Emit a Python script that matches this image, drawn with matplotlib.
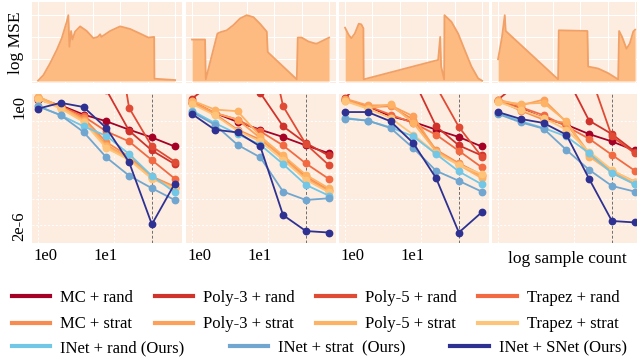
import matplotlib.pyplot as plt
from matplotlib.lines import Line2D
from matplotlib.transforms import ScaledTranslation

plt.rcParams['font.family'] = ['Liberation Serif', 'DejaVu Serif']

# sample counts on the x axis of the lower row
counts = [1, 2, 4, 8, 16, 32, 64]
dashed_at = 32

# log10 MSE, one list per integrand (4 integrands)
mc_rand = [[0.33, 0.06, -0.38, -0.70, -1.10, -1.47, -1.90],
           [0.18, -0.30, -0.73, -1.10, -1.45, -1.85, -2.22],
           [0.33, 0.02, -0.46, -0.73, -1.10, -1.45, -1.90],
           [0.26, -0.10, -0.54, -0.86, -1.31, -1.66, -2.09]]
poly3_rand = [[3.0, 3.5, 2.5, 0.80, -1.15, -2.09, -2.74],
              [0.38, 1.2, 2.0, 0.65, -0.94, -1.74, -2.33],
              [0.40, 1.5, 3.0, 1.32, -0.94, -1.85, -2.33],
              [0.33, 1.2, 3.0, 1.45, -0.67, -1.31, -2.14]]
poly5_rand = [[3.5, 5.0, 7.0, 6.5, -0.06, -1.90, -2.62],
              [2.5, 4.0, 6.0, 4.9, 0.02, -1.79, -2.78],
              [2.0, 4.0, 6.0, 6.0, 0.97, -0.97, -2.38],
              [2.0, 4.0, 5.0, 6.0, 1.69, -1.42, -2.22]]
trapez_rand = [[0.45, 0.02, -0.46, -1.18, -1.66, -2.55, -3.43],
               [0.26, -0.30, -0.62, -1.18, -1.85, -2.71, -3.44],
               [0.33, 0.02, -0.38, -0.78, -1.34, -2.11, -2.89],
               [0.26, -0.03, -0.41, -0.94, -1.53, -2.30, -3.05]]
mc_strat = [[0.41, -0.06, -0.54, -1.69, -2.38, -3.33, -3.81],
            [0.18, -0.35, -1.10, -1.58, -2.38, -3.33, -3.97],
            [0.33, -0.03, 0.02, -0.62, -2.06, -2.70, -3.25],
            [0.29, -0.19, -0.62, -0.78, -2.30, -3.09, -3.65]]
poly3_strat = [[0.45, -0.03, -0.62, -1.82, -2.46, -3.38, -3.86],
               [0.22, -0.30, -0.62, -1.50, -2.46, -3.41, -4.02],
               [0.38, 0.06, 0.06, -0.46, -2.11, -2.74, -3.33],
               [0.33, 0.06, 0.33, -0.73, -2.22, -3.06, -3.57]]
poly5_strat = [[0.48, 0.0, -0.67, -1.90, -2.49, -3.41, -3.89],
               [0.29, -0.14, -0.22, -1.42, -2.33, -3.25, -3.89],
               [0.29, -0.06, 0.10, -0.78, -2.14, -2.78, -3.41],
               [0.26, 0.13, 0.18, -0.70, -2.38, -3.13, -3.70]]
trapez_strat = [[0.38, -0.10, -0.73, -1.98, -2.54, -3.44, -3.92],
                [0.13, -0.41, -1.15, -1.66, -2.54, -3.49, -4.08],
                [0.26, -0.10, -0.54, -1.34, -2.22, -2.78, -3.22],
                [0.22, -0.14, -0.54, -1.10, -2.14, -3.01, -3.60]]
inet_rand = [[0.02, -0.41, -0.94, -1.39, -2.26, -3.30, -4.08],
             [-0.19, -0.78, -1.31, -1.82, -2.74, -3.73, -4.24],
             [-0.54, -0.67, -0.99, -1.42, -2.26, -3.09, -3.70],
             [-0.30, -0.70, -1.02, -1.42, -2.22, -3.17, -3.70]]
inet_strat = [[0.02, -0.41, -1.21, -2.42, -3.29, -3.89, -4.45],
              [-0.26, -0.86, -1.82, -2.42, -4.05, -4.45, -4.37],
              [-0.57, -0.67, -1.02, -1.98, -3.06, -3.54, -4.05],
              [-0.35, -0.75, -1.05, -2.06, -3.01, -3.78, -4.05]]
inet_snet = [[-0.10, 0.18, -0.02, -1.02, -2.65, -5.61, -3.68],
             [-0.35, -1.10, -1.23, -1.90, -5.17, -5.93, -6.00],
             [-0.26, -0.26, -0.70, -1.74, -3.41, -6.00, -5.04],
             [-0.26, -0.59, -0.78, -1.34, -3.44, -5.45, -5.52]]

names = ['MC + rand', 'Poly-3 + rand', 'Poly-5 + rand', 'Trapez + rand',
         'MC + strat', 'Poly-3 + strat', 'Poly-5 + strat', 'Trapez + strat',
         'INet + rand (Ours)', 'INet + strat  (Ours)', 'INet + SNet (Ours)']
colors = ['#a50026', '#d0332c', '#e04b35', '#f26a41',
          '#f88c50', '#fca05a', '#fdb264', '#fec47a',
          '#72c6e6', '#70a6d0', '#2e3191']
series = [mc_rand, poly3_rand, poly5_rand, trapez_rand,
          mc_strat, poly3_strat, poly5_strat, trapez_strat,
          inet_rand, inet_strat, inet_snet]

# integrands in the top row (x and y in 0..1)
f1_x = [0.0, 0.039, 0.088, 0.136, 0.173, 0.209, 0.221, 0.229, 0.241, 0.251, 0.270, 0.307,
        0.355, 0.404, 0.436, 0.453, 0.462, 0.526, 0.599, 0.672, 0.745, 0.805, 0.847, 0.849, 1.0]
f1_y = [0.005, 0.09, 0.27, 0.47, 0.65, 0.90, 1.0, 0.52, 0.76, 0.63, 0.75, 0.83,
        0.76, 0.65, 0.67, 0.71, 0.67, 0.76, 0.83, 0.79, 0.72, 0.66, 0.67, 0.035, 0.015]
f2_x = [0.0, 0.095, 0.10, 0.185, 0.204, 0.253, 0.302, 0.350, 0.399, 0.448, 0.496, 0.545,
        0.552, 0.764, 0.771, 0.80, 0.849, 0.898, 0.912, 1.0]
f2_y = [0.63, 0.63, 0.025, 0.72, 0.74, 0.77, 0.85, 0.95, 1.0, 0.97, 0.87, 0.75,
        0.44, 0.025, 0.66, 0.66, 0.60, 0.57, 0.57, 0.66]
f3_x = [0.0, 0.027, 0.046, 0.071, 0.100, 0.119, 0.134, 0.136, 0.679, 0.694, 0.701, 0.723,
        0.725, 0.776, 0.825, 0.873, 0.922, 0.971, 1.0]
f3_y = [0.81, 0.70, 0.65, 0.72, 0.87, 0.86, 0.80, 0.025, 0.32, 0.67, 0.22, 0.025,
        1.0, 0.90, 0.72, 0.47, 0.22, 0.04, 0.005]
f4_x = [0.0, 0.029, 0.049, 0.056, 0.438, 0.443, 0.652, 0.657, 0.730, 0.803, 0.876, 0.883,
        0.905, 0.937, 0.961, 0.986, 1.0]
f4_y = [0.33, 0.67, 1.0, 0.76, 0.025, 0.77, 0.76, 0.22, 0.19, 0.12, 0.025, 0.76,
        0.67, 0.49, 0.57, 0.75, 0.78]
curves_x = [f1_x, f2_x, f3_x, f4_x]
curves_y = [f1_y, f2_y, f3_y, f4_y]

W, H = 637.0, 362.0
lefts = [32, 186, 339, 492]
bg = '#fdede0'

fig = plt.figure(figsize=(W / 100, H / 100), dpi=100)

# top row: the integrands
for i in range(4):
    ax = fig.add_axes([lefts[i] / W, 1 - 83 / H, 150 / W, 81 / H])
    ax.set_facecolor(bg)
    ax.set_axisbelow(True)
    ax.fill_between(curves_x[i], curves_y[i], 0, color='#fdbb82', lw=0)
    ax.plot(curves_x[i], curves_y[i], color='#f1a066', lw=1.3)
    ax.set_xlim(-0.044, 1.05)
    ax.set_ylim(-0.03, 1.2)
    ax.set_xticks([0, 0.2, 0.4, 0.6, 0.8, 1.0])
    ax.set_yticks([0, 1 / 3, 2 / 3, 1])
    ax.grid(color='white', lw=0.8)
    ax.tick_params(length=0, labelbottom=False, labelleft=False)
    for s in ax.spines.values():
        s.set_visible(False)
    if i == 0:
        ax.set_ylabel('log MSE', fontsize=12.5, labelpad=6)

# bottom row: convergence
for i in range(4):
    ax = fig.add_axes([lefts[i] / W, 1 - 243 / H, 150 / W, 149 / H])
    ax.set_facecolor(bg)
    ax.set_xscale('log')
    ax.axvline(dashed_at, color='#6e6e6e', lw=0.7, ls=(0, (3, 2)), zorder=1.8)
    for vals, c in zip(series, colors):
        ax.plot(counts, vals[i], color=c, lw=1.3, marker='o', ms=4.6, zorder=2)
    ax.set_xlim(0.835, 80)
    ax.set_ylim(-6.5, 0.6)
    ax.set_xticks([1, 10])
    ax.set_xticks([], minor=True)
    ax.set_yticks([0, -5.7])
    ax.set_yticks([-0.67, -1.92, -3.17, -4.41, -5.65], minor=True)
    ax.grid(which='major', axis='x', color='white', lw=0.7, ls=(0, (2, 2)))
    ax.grid(which='minor', axis='y', color='white', lw=0.7, ls=(0, (2, 2)))
    ax.tick_params(which='both', length=0, labelsize=12)
    for s in ax.spines.values():
        s.set_visible(False)
    if i == 0:
        ax.set_yticklabels(['1e0', '2e-6'], rotation=90, va='center')
    else:
        ax.set_yticklabels([])
    if i < 3:
        ax.set_xticklabels(['1e0', '1e1'])
        labs = ax.get_xticklabels()
        labs[0].set_transform(labs[0].get_transform() + ScaledTranslation(8 / 100, 0, fig.dpi_scale_trans))
        labs[1].set_transform(labs[1].get_transform() + ScaledTranslation(-8 / 100, 0, fig.dpi_scale_trans))
    else:
        ax.set_xticklabels([])
        ax.set_xlabel('log sample count', fontsize=12.5, labelpad=2)

handles = [Line2D([], [], color=c, lw=3) for c in colors]
order = [0, 4, 1, 5, 2, 6, 3, 7]
fig.legend([handles[k] for k in order], [names[k] for k in order], ncol=4,
           loc='upper left', bbox_to_anchor=(12 / W, 1 - 290 / H), frameon=False,
           fontsize=12, handlelength=2.3, handletextpad=0.6, columnspacing=1.3,
           labelspacing=0.62, borderpad=0, borderaxespad=0)
fig.legend(handles[8:], names[8:], ncol=3,
           loc='upper left', bbox_to_anchor=(12 / W, 1 - 340 / H), frameon=False,
           fontsize=12, handlelength=2.3, handletextpad=0.6, columnspacing=2.7,
           borderpad=0, borderaxespad=0)

fig.savefig('out.png', dpi=100)
